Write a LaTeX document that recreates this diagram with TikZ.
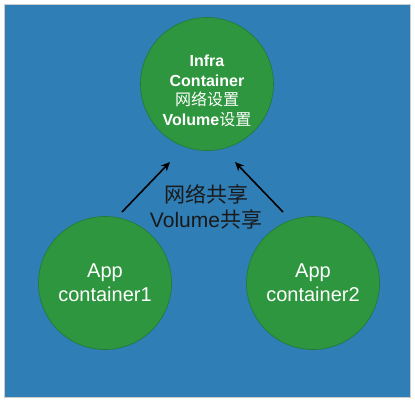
\documentclass[tikz,border=0pt]{standalone}
\usepackage{fontspec}
\setmainfont{Liberation Sans}
\newfontfamily\cjk{Noto Sans CJK SC}
\usetikzlibrary{arrows.meta}
\definecolor{bgblue}{RGB}{47,126,182}
\definecolor{cgreen}{RGB}{46,150,62}
\definecolor{cedge}{RGB}{36,120,50}
\definecolor{lbl}{RGB}{25,25,25}
\tikzset{
  ctr/.style={circle, fill=cgreen, draw=cedge, line width=0.6pt, minimum size=133pt, inner sep=0pt, text=white, align=center},
  flow/.style={-{Stealth[length=9pt,width=8pt]}, line width=1.6pt, black},
}
\begin{document}
\begin{tikzpicture}[x=1pt,y=-1pt]
\useasboundingbox (0,0) rectangle (415,402);
\fill[white] (0,0) rectangle (415,402);
\fill[bgblue] (4,4) rectangle (410,397);
\draw[gray!40, line width=0.8pt] (4,4) rectangle (410,397);
\node[ctr] (infra) at (207,84) {};
\node[text=white, align=center, font=\bfseries\fontsize{16}{19.5}\selectfont] (infratext) at (207,91)
  {Infra\\Container\\{\cjk\mdseries 网络设置}\\Volume{\cjk\mdseries 设置}};
\node[ctr, font=\fontsize{20}{24}\selectfont] (app1) at (105,283) {App\\container1};
\node[ctr, font=\fontsize{20}{24}\selectfont] (app2) at (313,283) {App\\container2};
\node[text=lbl, align=center, font=\fontsize{21}{25}\selectfont] (share) at (206,207)
  {{\cjk 网络共享}\\Volume{\cjk 共享}};
\coordinate (t1) at (122,212);
\coordinate (h1) at (170,162);
\coordinate (t2) at (283,212);
\coordinate (h2) at (235,162);
\draw[flow] (t1) -- (h1);
\draw[flow] (t2) -- (h2);
\end{tikzpicture}
\end{document}
